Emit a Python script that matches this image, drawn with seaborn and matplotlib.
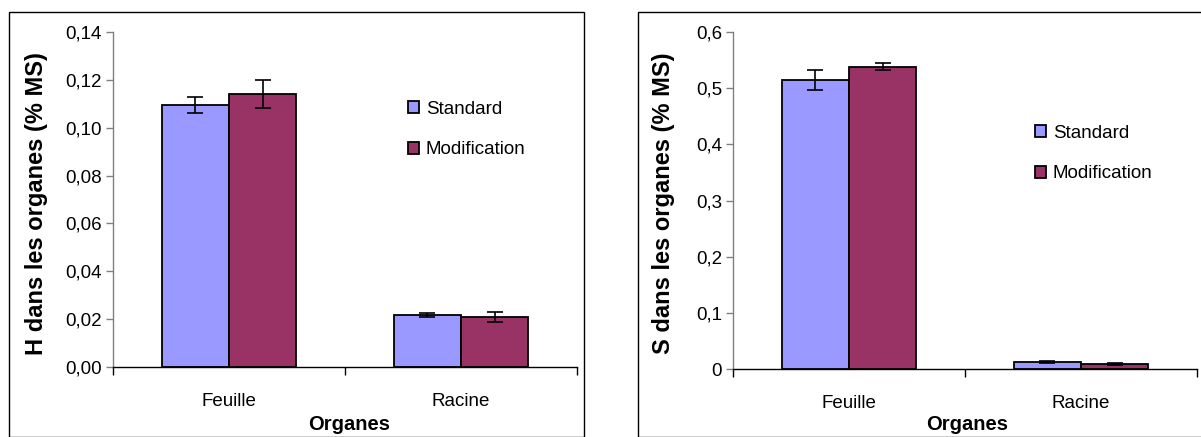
import seaborn as sns
import matplotlib.pyplot as plt
import matplotlib.patches as mpatches
from matplotlib.ticker import FuncFormatter, FixedLocator
import pandas as pd

organes = ["Feuille", "Racine"]
traitements = ["Standard", "Modification"]

h_standard = [0.1095, 0.0217]
h_standard_err = [0.0035, 0.0008]
h_modif = [0.1142, 0.0210]
h_modif_err = [0.0058, 0.0020]

s_standard = [0.514, 0.013]
s_standard_err = [0.018, 0.002]
s_modif = [0.538, 0.0095]
s_modif_err = [0.0065, 0.002]

COLORS = ["#9999FF", "#993366"]
FONT = "Liberation Sans"
TICK_SIZE = 13.5


def build_df(std, std_err, mod, mod_err):
    rows = []
    for i, org in enumerate(organes):
        rows.append({"organe": org, "traitement": "Standard", "val": std[i], "err": std_err[i]})
        rows.append({"organe": org, "traitement": "Modification", "val": mod[i], "err": mod_err[i]})
    return pd.DataFrame(rows)


def draw_panel(fig, rect, df, ymax, ystep, fmt, ylabel, legend_pos):
    ax = fig.add_axes(rect)
    sns.barplot(data=df, x="organe", y="val", hue="traitement", order=organes,
                hue_order=traitements, palette=COLORS, saturation=1, width=0.58, gap=0,
                errorbar=None, edgecolor="black", linewidth=1.3, ax=ax)

    # error bars on the bar centers given by seaborn
    for cont, trt in zip(ax.containers, traitements):
        sub = df[df["traitement"] == trt].set_index("organe").loc[organes]
        xs = [p.get_x() + p.get_width() / 2 for p in cont.patches]
        ax.errorbar(xs, sub["val"], yerr=sub["err"], fmt="none", ecolor="black",
                    elinewidth=1.2, capsize=6, capthick=1.2, zorder=5)

    ax.set_xlim(-0.5, 1.5)
    ax.set_ylim(0, ymax)
    n = int(round(ymax / ystep))
    ax.set_yticks([i * ystep for i in range(n + 1)])
    ax.yaxis.set_major_formatter(FuncFormatter(fmt))
    ax.tick_params(axis="y", direction="out", length=5, width=1, color="#808080",
                   labelsize=TICK_SIZE, pad=3)
    for lab in ax.get_yticklabels():
        lab.set_fontfamily(FONT)

    ax.set_xticks([0, 1])
    ax.set_xticklabels(organes, fontfamily=FONT, fontsize=TICK_SIZE)
    ax.tick_params(axis="x", which="major", length=0, pad=19)
    ax.xaxis.set_minor_locator(FixedLocator([-0.5, 0.5, 1.5]))
    ax.tick_params(axis="x", which="minor", direction="out", length=6, width=1, color="black")

    for side in ["top", "right"]:
        ax.spines[side].set_visible(False)
    ax.spines["left"].set_color("#808080")
    ax.spines["bottom"].set_color("black")
    ax.spines["left"].set_linewidth(1)
    ax.spines["bottom"].set_linewidth(1)

    ax.set_xlabel("Organes", fontfamily=FONT, fontweight="bold", fontsize=14.5)
    ax.set_ylabel(ylabel, fontfamily=FONT, fontweight="bold", fontsize=17)

    handles, labels = ax.get_legend_handles_labels()
    ax.legend(handles, labels, loc="center left", bbox_to_anchor=legend_pos,
              bbox_transform=fig.transFigure, frameon=False,
              handlelength=0.6, handleheight=0.6, handletextpad=0.35,
              labelspacing=1.25, prop={"family": FONT, "size": TICK_SIZE})
    return ax


def fmt_h(v, pos):
    return "{:.2f}".format(v).replace(".", ",")


def fmt_s(v, pos):
    if abs(v) < 1e-9:
        return "0"
    return "{:.1f}".format(v).replace(".", ",")


W, H = 1201, 437
fig = plt.figure(figsize=(W / 100, H / 100), dpi=100)

# outer frames of the two charts
fig.patches.append(mpatches.Rectangle((9 / W, 0), (584 - 9) / W, (H - 12) / H,
                                      transform=fig.transFigure, fill=False,
                                      edgecolor="black", linewidth=1))
fig.patches.append(mpatches.Rectangle((638 / W, 0), (W + 5 - 638) / W, (H - 12) / H,
                                      transform=fig.transFigure, fill=False,
                                      edgecolor="black", linewidth=1))

h_df = build_df(h_standard, h_standard_err, h_modif, h_modif_err)
s_df = build_df(s_standard, s_standard_err, s_modif, s_modif_err)

ax1 = draw_panel(fig, [113 / W, (H - 367) / H, 464 / W, 335 / H], h_df, 0.14, 0.02, fmt_h,
                 "H dans les organes (% MS)", (391 / W, 1 - 129.5 / H))
ax2 = draw_panel(fig, [733 / W, (H - 369) / H, 464 / W, 337 / H], s_df, 0.6, 0.1, fmt_s,
                 "S dans les organes (% MS)", (1018 / W, 1 - 153.5 / H))

ax1.yaxis.set_label_coords(48 / W, 0.5 + 15 / H, transform=fig.transFigure)
ax2.yaxis.set_label_coords(675 / W, 0.5 + 15 / H, transform=fig.transFigure)

ax1.xaxis.set_label_coords(349 / W, 1 - 415 / H, transform=fig.transFigure)
ax2.xaxis.set_label_coords(967 / W, 1 - 415 / H, transform=fig.transFigure)

fig.savefig("out.png", dpi=100)
